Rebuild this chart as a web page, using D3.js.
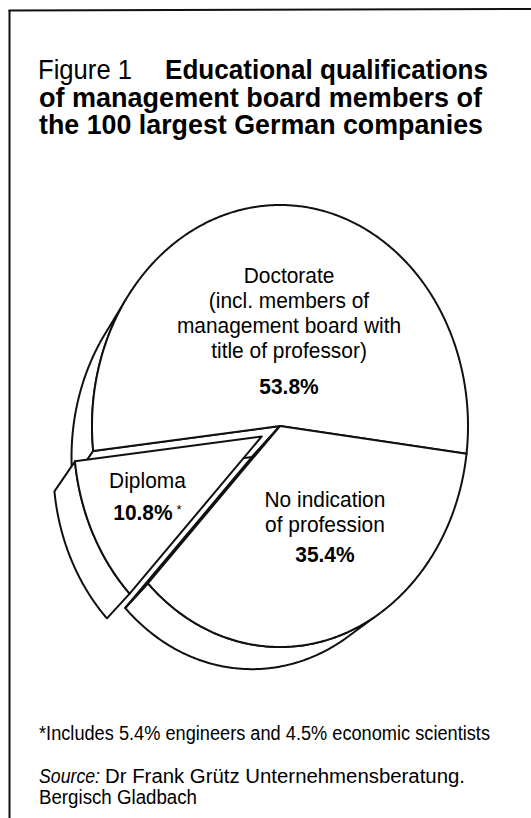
<!DOCTYPE html>
<html>
<head>
<meta charset="utf-8">
<script src="https://cdn.jsdelivr.net/npm/d3@7"></script>
<style>
  html, body { margin: 0; padding: 0; background: #fff; }
  svg { display: block; }
  text { font-family: "Liberation Sans", Arial, Helvetica, sans-serif; fill: #000; }
</style>
</head>
<body>
<svg id="chart" width="531" height="818"></svg>
<script>
// ---- data ----
const categories = ["Doctorate", "Diploma", "No indication of profession"];
const shares = [53.8, 10.8, 35.4];
const labelLines = [
  ["Doctorate", "(incl. members of", "management board with", "title of professor)"],
  ["Diploma"],
  ["No indication", "of profession"]
];
const valueMarks = ["", "*", ""];
const explodedSlices = ["Diploma"];

const titleLead = "Figure 1";
const titleLines = ["Educational qualifications", "of management board members of", "the 100 largest German companies"];
const footnote = "*Includes 5.4% engineers and 4.5% economic scientists";
const sourceLabel = "Source:";
const sourceLines = ["Dr Frank Grütz Unternehmensberatung.", "Bergisch Gladbach"];

// ---- layout ----
const DEG = Math.PI / 180;
const G = {
  cx: 280, cy: 426, rx: 188, ry: 221,   // top face ellipse
  dx: -28, dy: 31, scale: 0.96,          // offset and shrink of the underside (thickness)
  explode: 21,                           // pull-out distance of detached slices
  firstEdge: 7.2                         // parametric angle of the first slice edge (deg)
};
const labelAnchors = [
  { fx: 0.048, fy: -0.647, valueGap: 36 },
  { fx: -0.705, fy: 0.281, valueGap: 32 },
  { fx: 0.239, fy: 0.367, valueGap: 29.5 }
];
const lineStep = 25;
const labelSize = 22;
const condense = 0.95;
const titleSize = 28;
const ink = "#111";

const svg = d3.select("#chart");

// squeeze a text element horizontally to a fraction of its natural width
function squeeze(sel, f) {
  sel.each(function () {
    const w = this.getComputedTextLength();
    d3.select(this).attr("textLength", (w * f).toFixed(1)).attr("lengthAdjust", "spacingAndGlyphs");
  });
}

// frame
svg.append("line").attr("x1", 8.5).attr("y1", 10.5).attr("x2", 531).attr("y2", 9)
  .attr("stroke", ink).attr("stroke-width", 2);
svg.append("line").attr("x1", 9.5).attr("y1", 10).attr("x2", 9.5).attr("y2", 818)
  .attr("stroke", ink).attr("stroke-width", 2);

// title: one text block, one tspan per line
const titleBox = [
  { x: 165, y: 79, w: 323 },
  { x: 39, y: 106.5, w: 443 },
  { x: 39, y: 134, w: 444 }
];
const title = svg.append("text").attr("class", "title").attr("font-size", titleSize);
title.append("tspan").attr("x", 38).attr("y", 79)
  .attr("textLength", 94).attr("lengthAdjust", "spacingAndGlyphs").text(titleLead);
titleLines.forEach((t, i) => {
  title.append("tspan").attr("x", titleBox[i].x).attr("y", titleBox[i].y)
    .attr("font-weight", "bold")
    .attr("textLength", titleBox[i].w).attr("lengthAdjust", "spacingAndGlyphs")
    .text(t);
});

// ---- pie ----
const data = categories.map((c, i) => ({
  name: c, value: shares[i], lines: labelLines[i], mark: valueMarks[i], index: i
}));

const a0 = G.firstEdge * DEG + Math.PI / 2;
const pie = d3.pie().sort(null).value(d => d.value)
  .startAngle(a0).endAngle(a0 - 2 * Math.PI);
const slices = pie(data);

const topPt = (t, o) => [G.cx + o[0] + G.rx * Math.cos(t), G.cy + o[1] + G.ry * Math.sin(t)];
const botPt = (t, o) => [G.cx + o[0] + G.dx + G.scale * G.rx * Math.cos(t),
                         G.cy + o[1] + G.dy + G.scale * G.ry * Math.sin(t)];
const facing = t => G.dx * Math.cos(t) / G.rx + G.dy * Math.sin(t) / G.ry + (G.scale - 1);
const closed = d3.line().curve(d3.curveLinearClosed);

const geo = slices.map(s => {
  const t0 = s.startAngle - Math.PI / 2;
  const t1 = s.endAngle - Math.PI / 2;
  const tm = (t0 + t1) / 2;
  let o = [0, 0];
  if (explodedSlices.includes(s.data.name)) {
    const ux = G.rx * Math.cos(tm), uy = G.ry * Math.sin(tm);
    const len = Math.hypot(ux, uy);
    o = [G.explode * ux / len, G.explode * uy / len];
  }
  const n = Math.ceil(Math.abs(t1 - t0) / (0.5 * DEG));
  const ts = d3.range(n + 1).map(i => t0 + (t1 - t0) * i / n);
  const mid = topPt(tm, o);
  const depth = (mid[0] - G.cx) * G.dx + (mid[1] - G.cy) * G.dy;
  return { s, t0, t1, tm, o, ts, depth };
});

const pieG = svg.append("g").attr("class", "pie");

geo.slice().sort((a, b) => a.depth - b.depth).forEach(g => {
  const grp = pieG.append("g").attr("class", "slice");
  const style = sel => sel.attr("fill", "#fff").attr("stroke", ink)
    .attr("stroke-width", 2).attr("stroke-linejoin", "round");

  // outer rim wall, only where it turns toward the viewer
  const runs = [];
  let cur = [];
  g.ts.forEach(t => {
    if (facing(t) > 0) cur.push(t);
    else { if (cur.length > 1) runs.push(cur); cur = []; }
  });
  if (cur.length > 1) runs.push(cur);
  runs.forEach(run => {
    const pts = run.map(t => topPt(t, g.o))
      .concat(run.slice().reverse().map(t => botPt(t, g.o)));
    grp.append("path").attr("d", closed(pts)).call(style);
  });

  // radial walls
  const ct = [G.cx + g.o[0], G.cy + g.o[1]];
  const cb = [ct[0] + G.dx, ct[1] + G.dy];
  const m = topPt(g.tm, g.o);
  [g.t0, g.t1].forEach(te => {
    const p = topPt(te, g.o), pb = botPt(te, g.o);
    let nrm = [p[1] - ct[1], -(p[0] - ct[0])];
    if (nrm[0] * (m[0] - ct[0]) + nrm[1] * (m[1] - ct[1]) > 0) nrm = [-nrm[0], -nrm[1]];
    const disp = [(cb[0] - ct[0] + pb[0] - p[0]) / 2, (cb[1] - ct[1] + pb[1] - p[1]) / 2];
    if (nrm[0] * disp[0] + nrm[1] * disp[1] > 0) {
      grp.append("path").attr("d", closed([ct, p, pb, cb])).call(style);
    }
  });

  // top face
  const face = [ct].concat(g.ts.map(t => topPt(t, g.o)));
  grp.append("path").attr("d", closed(face)).call(style);
});

// labels
const fmt = d3.format(".1f");
const labels = svg.append("g").attr("class", "labels");
data.forEach((d, i) => {
  const a = labelAnchors[i];
  const x = G.cx + a.fx * G.rx;
  const y = G.cy + a.fy * G.ry;
  d.lines.forEach((ln, k) => {
    labels.append("text").attr("x", x).attr("y", y + k * lineStep)
      .attr("text-anchor", "middle")
      .attr("font-size", labelSize).text(ln).call(squeeze, condense);
  });
  const vy = y + (d.lines.length - 1) * lineStep + a.valueGap;
  const vt = labels.append("text").attr("y", vy)
    .attr("font-size", labelSize).attr("font-weight", "bold")
    .text(fmt(d.value) + "%").call(squeeze, condense);
  const vw = +vt.attr("textLength");
  let mw = 0, mt = null;
  if (d.mark) {
    mt = labels.append("text").attr("y", vy - 6).attr("font-size", 13).text(d.mark);
    mw = mt.node().getComputedTextLength() + 4;
  }
  const left = x - (vw + mw) / 2;
  vt.attr("x", left);
  if (mt) mt.attr("x", left + vw + 4);
});

// footnote and source
const notes = svg.append("g").attr("class", "notes");
notes.append("text").attr("x", 39).attr("y", 740).attr("font-size", 19.5)
  .attr("textLength", 451).attr("lengthAdjust", "spacingAndGlyphs").text(footnote);
notes.append("text").attr("x", 39).attr("y", 783).attr("font-size", 19.5)
  .attr("font-style", "italic").attr("textLength", 61).attr("lengthAdjust", "spacingAndGlyphs")
  .text(sourceLabel);
notes.append("text").attr("x", 105).attr("y", 783).attr("font-size", 19.5)
  .attr("textLength", 360).attr("lengthAdjust", "spacingAndGlyphs").text(sourceLines[0]);
notes.append("text").attr("x", 39).attr("y", 803.5).attr("font-size", 19.5)
  .attr("textLength", 158).attr("lengthAdjust", "spacingAndGlyphs").text(sourceLines[1]);
</script>
</body>
</html>
